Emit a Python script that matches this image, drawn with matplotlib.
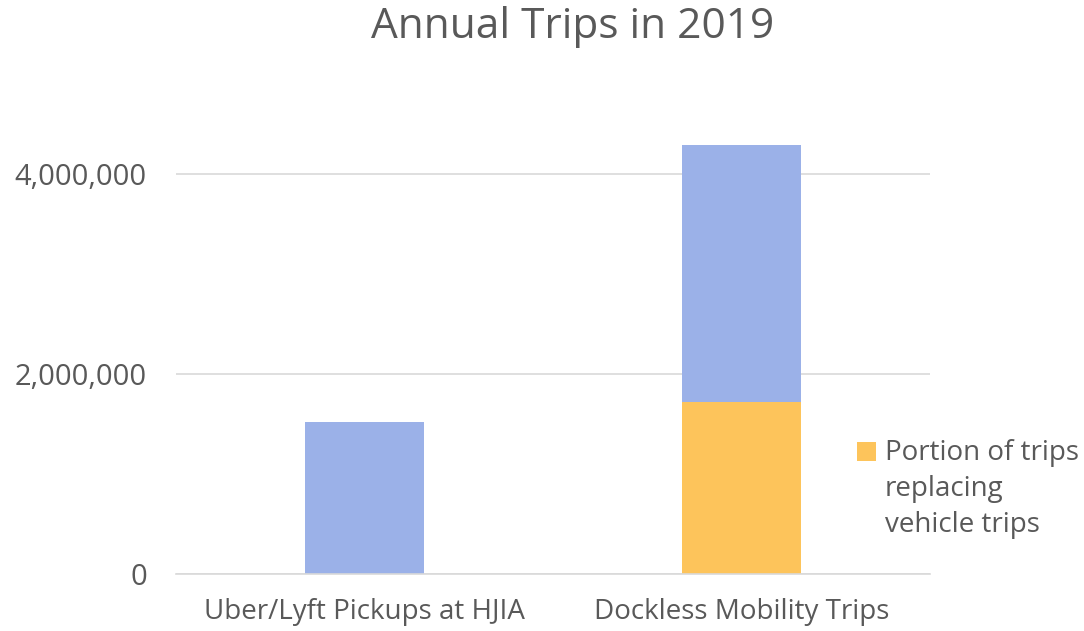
import matplotlib.pyplot as plt
from matplotlib.legend_handler import HandlerPatch
from matplotlib.patches import Rectangle
from matplotlib.ticker import FuncFormatter

# Data
categories = ['Uber/Lyft Pickups at HJIA', 'Dockless Mobility Trips']
replacing_trips = [0, 1720000]          # orange, bottom segment
other_trips = [1520000, 2570000]        # blue, stacked on top
legend_label = 'Portion of trips\nreplacing\nvehicle trips'

blue = '#9BB1E8'
orange = '#FDC45B'
text_color = '#595959'

plt.rcParams['font.family'] = ['Open Sans', 'DejaVu Sans']

fig = plt.figure(figsize=(10.84, 6.31), dpi=100)
ax = fig.add_axes([176 / 1084, 1 - 574 / 631, (930 - 176) / 1084, 440 / 631])

x = range(len(categories))
width = 0.316
orange_bars = ax.bar(x, replacing_trips, width, color=orange, zorder=2)
ax.bar(x, other_trips, width, bottom=replacing_trips, color=blue, zorder=2)

ax.set_xlim(-0.5, 1.5)
ax.set_ylim(0, 4400000)
ax.set_yticks([0, 2000000, 4000000])
ax.yaxis.set_major_formatter(FuncFormatter(lambda v, p: f'{int(v):,}'))
ax.set_xticks(list(x))
ax.set_xticklabels(categories, fontsize=20)

ax.grid(axis='y', color='#d9d9d9', linewidth=1.2, zorder=0)
for s in ['top', 'right', 'left']:
    ax.spines[s].set_visible(False)
ax.spines['bottom'].set_color('#d9d9d9')
ax.spines['bottom'].set_linewidth(1.2)
ax.tick_params(axis='both', length=0, labelcolor=text_color)
ax.tick_params(axis='y', pad=21, labelsize=21)
ax.tick_params(axis='x', pad=17)

fig.suptitle('Annual Trips in 2019', fontsize=30.5, color=text_color,
             x=573 / 1084, y=1 - 27 / 631, va='center')


# put the legend square next to the first line of the label
def top_square(legend, orig_handle, xdescent, ydescent, width, height, fontsize):
    return Rectangle((-xdescent, -ydescent + fontsize * 1.39), width, height)


handle = orange_bars.patches[1]
leg = ax.legend([handle], [legend_label], loc='upper left',
                bbox_to_anchor=(832 / 1084, 1 - 414 / 631), bbox_transform=fig.transFigure,
                frameon=False, fontsize=20, handlelength=0.7, handleheight=0.7,
                handletextpad=0.3, labelcolor=text_color,
                handler_map={handle: HandlerPatch(patch_func=top_square)})
leg.get_texts()[0].set_linespacing(1.39)

fig.savefig('out.png', dpi=100)
